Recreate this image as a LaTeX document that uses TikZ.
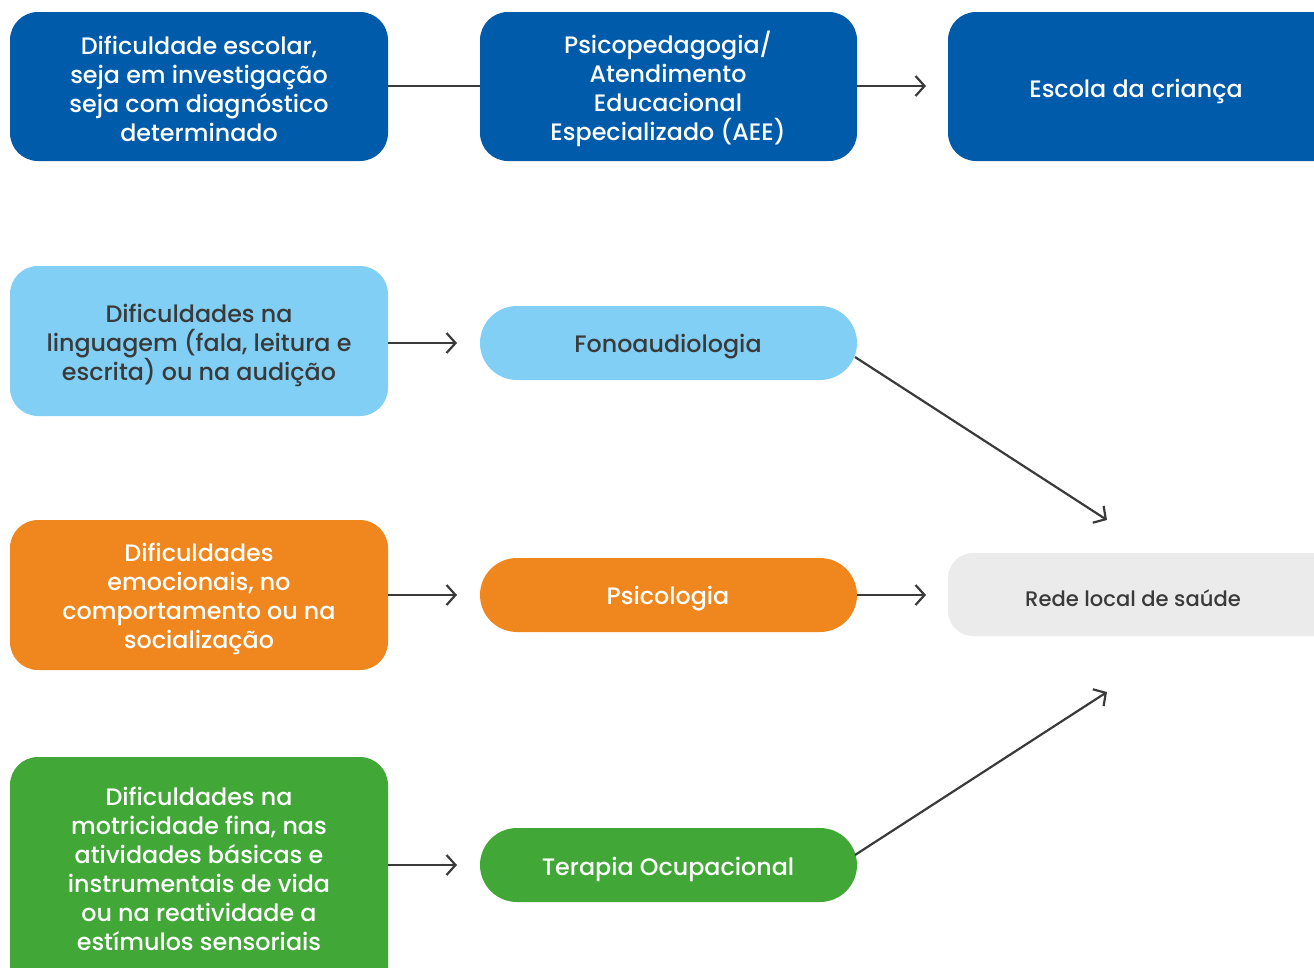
\documentclass[tikz,border=0pt]{standalone}
\usepackage{fontspec}
\setmainfont{Poppins}[UprightFont=* Medium, BoldFont=* SemiBold]
\usetikzlibrary{arrows.meta}
\definecolor{dblue}{HTML}{005BAA}
\definecolor{lblue}{HTML}{81CFF4}
\definecolor{orng}{HTML}{F0861E}
\definecolor{grn}{HTML}{41A838}
\definecolor{lgray}{HTML}{EBEBEB}
\definecolor{ink}{HTML}{3A3A3A}
\begin{document}
\begin{tikzpicture}[x=1pt,y=-1pt,
  box/.style={rounded corners=28pt, inner sep=0pt, align=center,
    font=\fontsize{23.8}{29}\selectfont},
  pill/.style={rounded corners=37pt, inner sep=0pt, align=center,
    font=\fontsize{23.8}{29}\selectfont},
  link/.style={draw=ink, line width=2.2pt, -{Straight Barb[length=9pt,width=20pt,line width=2.2pt]}},
  plain/.style={draw=ink, line width=2.2pt}]
\useasboundingbox (0,0) rectangle (1314,967);
% row 1
\fill[dblue, rounded corners=28pt] (10,12) rectangle (388,161);
\node[box, text=white] (b1) at (199,89) {Dificuldade escolar,\\seja em investigação\\seja com diagnóstico\\determinado};
\fill[dblue, rounded corners=28pt] (480,12) rectangle (857,161);
\node[box, text=white] (b2) at (668,89) {Psicopedagogia/\\Atendimento\\Educacional\\Especializado (AEE)};
\fill[dblue, rounded corners=28pt] (948,12) rectangle (1360,161);
\node[box, text=white] (b3) at (1136,91) {Escola da criança};
% row 2
\fill[lblue, rounded corners=28pt] (10,266) rectangle (388,416);
\node[box, text=ink] (l2) at (199,345) {Dificuldades na\\linguagem (fala, leitura e\\escrita) ou na audição};
\fill[lblue, rounded corners=37pt] (480,306) rectangle (857,380);
\node[pill, text=ink] (m2) at (668,347) {Fonoaudiologia};
% row 3
\fill[orng, rounded corners=28pt] (10,520) rectangle (388,670);
\node[box, text=white] (l3) at (199,599) {Dificuldades\\emocionais, no\\comportamento ou na\\socialização};
\fill[orng, rounded corners=37pt] (480,558) rectangle (857,632);
\node[pill, text=white] (m3) at (668,599) {Psicologia};
\fill[lgray, rounded corners=25pt] (948,553) rectangle (1360,636);
\node[pill, text=ink, font=\fontsize{21.1}{26}\selectfont] (r3) at (1133,598) {Rede local de saúde};
% row 4
\fill[grn, rounded corners=28pt] (10,757) rectangle (388,1000);
\node[box, text=white] (l4) at (199,869) {Dificuldades na\\motricidade fina, nas\\atividades básicas e\\instrumentais de vida\\ou na reatividade a\\estímulos sensoriais};
\fill[grn, rounded corners=37pt] (480,828) rectangle (857,902);
\node[pill, text=white] (m4) at (668,869) {Terapia Ocupacional};
% connectors
\coordinate (b1e) at (388,86); \coordinate (b2w) at (480,86);
\coordinate (b2e) at (857,86); \coordinate (b3a) at (926,86);
\coordinate (l2e) at (388,343); \coordinate (m2a) at (457,343);
\coordinate (l3e) at (388,595); \coordinate (m3a) at (457,595);
\coordinate (m3e) at (857,595); \coordinate (r3a) at (926,595);
\coordinate (l4e) at (388,865); \coordinate (m4a) at (457,865);
\coordinate (m2s) at (855,357); \coordinate (r3n) at (1107,520);
\coordinate (m4s) at (855,855); \coordinate (r3s) at (1107,692);
\draw[plain] (b1e) -- (b2w);
\draw[link] (b2e) -- (b3a);
\draw[link] (l2e) -- (m2a);
\draw[link] (l3e) -- (m3a);
\draw[link] (m3e) -- (r3a);
\draw[link] (l4e) -- (m4a);
\draw[link] (m2s) -- (r3n);
\draw[link] (m4s) -- (r3s);
\end{tikzpicture}
\end{document}
